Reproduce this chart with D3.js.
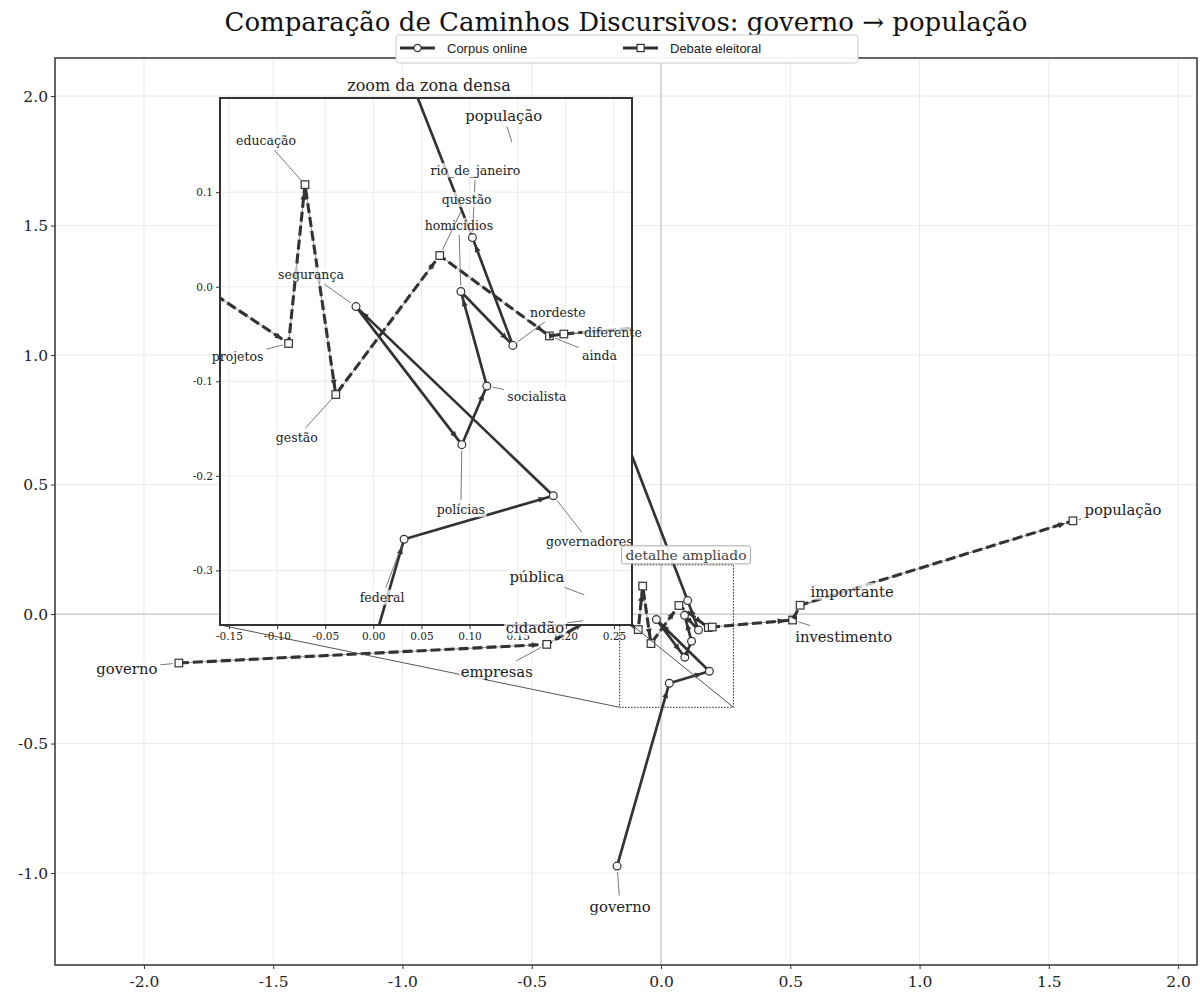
<!DOCTYPE html>
<html>
<head>
<meta charset="utf-8">
<script src="https://cdn.jsdelivr.net/npm/d3@7"></script>
<style>
  body { margin: 0; background: #fff; }
  svg { display: block; }
</style>
</head>
<body>
<div id="chart"></div>
<script>
// ---- data ----
const corpusWords = ['governo', 'federal', 'governadores', 'segurança', 'polícias', 'socialista',
                     'homicídios', 'nordeste', 'rio_de_janeiro', 'população'];
const corpusX = [-0.170, 0.032, 0.187, -0.018, 0.092, 0.118, 0.091, 0.145, 0.103, -0.570];
const corpusY = [-0.973, -0.267, -0.221, -0.021, -0.167, -0.105, -0.005, -0.062, 0.052, 1.800];

const debateWords = ['governo', 'empresas', 'cidadão', 'pública', 'projetos', 'educação', 'gestão',
                     'questão', 'ainda', 'diferente', 'investimento', 'importante', 'população'];
const debateX = [-1.865, -0.442, -0.279, -0.275, -0.088, -0.071, -0.039, 0.069, 0.183, 0.198, 0.509, 0.538, 1.593];
const debateY = [-0.189, -0.117, -0.023, 0.066, -0.060, 0.108, -0.114, 0.033, -0.052, -0.050, -0.023, 0.034, 0.360];

const seriesNames = ['Corpus online', 'Debate eleitoral'];
const mainXTicks = [-2.0, -1.5, -1.0, -0.5, 0.0, 0.5, 1.0, 1.5, 2.0];
const mainYTicks = [-1.0, -0.5, 0.0, 0.5, 1.0, 1.5, 2.0];
const insetXTicks = [-0.15, -0.10, -0.05, 0.00, 0.05, 0.10, 0.15, 0.20, 0.25];
const insetYTicks = [-0.3, -0.2, -0.1, 0.0, 0.1];
const insetLimits = { x0: -0.1593, x1: 0.2688, y0: -0.3577, y1: 0.1996 };
const zoomBox = { x0: -0.16, x1: 0.28, y0: -0.36, y1: 0.19 };

// label placement (pixel offsets from the point), per axes
const mainLabelOffsets = {
  'c:governo': [3, 40], 'c:população': [-10, -32],
  'd:governo': [-52, 5], 'd:empresas': [-50, 27], 'd:cidadão': [-54, 7], 'd:pública': [-53, -20],
  'd:investimento': [51, 16], 'd:importante': [52, -14], 'd:população': [50, -11]
};
const insetLabelOffsets = {
  'c:federal': [-22, 58], 'c:governadores': [36, 46], 'c:segurança': [-45, -32],
  'c:polícias': [-1, 65], 'c:socialista': [50, 10], 'c:homicídios': [-2, -66],
  'c:nordeste': [45, -33], 'c:rio_de_janeiro': [3, -67],
  'd:projetos': [-51, 13], 'd:educação': [-39, -44], 'd:gestão': [-39, 43],
  'd:questão': [27, -56], 'd:ainda': [50, 20], 'd:diferente': [49, -2]
};

const W = 1200, H = 994;
const serif = '"DejaVu Serif", serif';
const sans = '"Liberation Sans", Arial, sans-serif';
const ink = '#333';

const corpus = corpusWords.map((w, i) => ({ key: 'c:' + w, word: w, x: corpusX[i], y: corpusY[i] }));
const debate = debateWords.map((w, i) => ({ key: 'd:' + w, word: w, x: debateX[i], y: debateY[i] }));

const svg = d3.select('#chart').append('svg')
  .attr('width', W).attr('height', H)
  .style('background', '#fff');

const defs = svg.append('defs');

// main axes
const x = d3.scaleLinear().domain([-2.344, 2.073]).range([55, 1197]);
const y = d3.scaleLinear().domain([-1.355, 2.147]).range([965, 58]);
// inset axes
const ix = d3.scaleLinear().domain([insetLimits.x0, insetLimits.x1]).range([220, 632]);
const iy = d3.scaleLinear().domain([insetLimits.y0, insetLimits.y1]).range([625, 98]);

function clipFor(id, sx, sy) {
  defs.append('clipPath').attr('id', id).append('rect')
    .attr('x', sx.range()[0]).attr('y', sy.range()[1])
    .attr('width', sx.range()[1] - sx.range()[0])
    .attr('height', sy.range()[0] - sy.range()[1]);
  return 'url(#' + id + ')';
}

function drawFrame(g, sx, sy, xt, yt, opts) {
  const [l, r] = sx.range(), [b, t] = sy.range();
  g.append('rect').attr('x', l).attr('y', t).attr('width', r - l).attr('height', b - t)
    .attr('fill', '#fff');
  const grid = g.append('g');
  grid.selectAll('.gx').data(xt).enter().append('line')
    .attr('x1', d => sx(d)).attr('x2', d => sx(d)).attr('y1', t).attr('y2', b)
    .attr('stroke', '#e8e8e8').attr('stroke-width', 0.9);
  grid.selectAll('.gy').data(yt).enter().append('line')
    .attr('y1', d => sy(d)).attr('y2', d => sy(d)).attr('x1', l).attr('x2', r)
    .attr('stroke', '#e8e8e8').attr('stroke-width', 0.9);
  if (opts.zeroLines) {
    grid.append('line').attr('x1', sx(0)).attr('x2', sx(0)).attr('y1', t).attr('y2', b)
      .attr('stroke', '#c8c8c8').attr('stroke-width', 1.3);
    grid.append('line').attr('y1', sy(0)).attr('y2', sy(0)).attr('x1', l).attr('x2', r)
      .attr('stroke', '#c8c8c8').attr('stroke-width', 1.3);
  }
}

function drawAxes(g, sx, sy, xt, yt, fmtX, fmtY, opts) {
  const [l, r] = sx.range(), [b, t] = sy.range();
  const ax = g.append('g').attr('transform', `translate(0,${b})`)
    .call(d3.axisBottom(sx).tickValues(xt).tickFormat(fmtX).tickSize(4).tickSizeOuter(0));
  const ay = g.append('g').attr('transform', `translate(${l},0)`)
    .call(d3.axisLeft(sy).tickValues(yt).tickFormat(fmtY).tickSize(4).tickSizeOuter(0));
  [ax, ay].forEach(a => {
    a.select('.domain').remove();
    a.selectAll('line').attr('stroke', '#333');
    a.selectAll('text').attr('font-family', serif).attr('font-size', opts.tickFont).attr('fill', '#222');
  });
  ax.selectAll('text').attr('dy', opts.xDy);
  g.append('rect').attr('x', l).attr('y', t).attr('width', r - l).attr('height', b - t)
    .attr('fill', 'none').attr('stroke', opts.spine).attr('stroke-width', opts.spineW);
}

function drawSeries(g, sx, sy, pts, style) {
  const line = d3.line().x(d => sx(d.x)).y(d => sy(d.y));
  g.append('path').datum(pts).attr('d', line)
    .attr('fill', 'none').attr('stroke', ink)
    .attr('stroke-width', style.width)
    .attr('stroke-dasharray', style.dash)
    .attr('stroke-linejoin', 'round');
}

// arrow geometry for each step of a path
function arrowSegs(sx, sy, pts) {
  return d3.pairs(pts).map(([a, b]) => {
    const x0 = sx(a.x), y0 = sy(a.y), x1 = sx(b.x), y1 = sy(b.y);
    const len = Math.hypot(x1 - x0, y1 - y0);
    const ux = (x1 - x0) / len, uy = (y1 - y0) / len;
    return { x0, y0, ux, uy, len, tipX: x1 - ux * 8, tipY: y1 - uy * 8 };
  }).filter(s => s.len >= 14);
}

function drawShafts(g, sx, sy, pts) {
  arrowSegs(sx, sy, pts).forEach(s => {
    g.append('line')
      .attr('x1', s.x0 + s.ux * 5).attr('y1', s.y0 + s.uy * 5)
      .attr('x2', s.tipX).attr('y2', s.tipY)
      .attr('stroke', '#8a8a8a').attr('stroke-width', 0.9);
  });
}

function drawHeads(g, sx, sy, pts) {
  arrowSegs(sx, sy, pts).forEach(s => {
    const bx = s.tipX - s.ux * 7, by = s.tipY - s.uy * 7;
    g.append('path')
      .attr('d', `M${s.tipX},${s.tipY}L${bx - s.uy * 3},${by + s.ux * 3}L${bx + s.uy * 3},${by - s.ux * 3}Z`)
      .attr('fill', ink);
  });
}

function drawMarkers(g, sx, sy, pts, shape) {
  if (shape === 'circle') {
    g.selectAll(null).data(pts).enter().append('circle')
      .attr('cx', d => sx(d.x)).attr('cy', d => sy(d.y)).attr('r', 3.9)
      .attr('fill', '#f7f7f7').attr('stroke', ink).attr('stroke-width', 1.2);
  } else {
    g.selectAll(null).data(pts).enter().append('rect')
      .attr('x', d => sx(d.x) - 3.8).attr('y', d => sy(d.y) - 3.8)
      .attr('width', 7.6).attr('height', 7.6)
      .attr('fill', '#f7f7f7').attr('stroke', ink).attr('stroke-width', 1.2);
  }
}

function drawPanel(g, sx, sy) {
  drawShafts(g, sx, sy, corpus);
  drawShafts(g, sx, sy, debate);
  drawSeries(g, sx, sy, corpus, { width: 2.7, dash: null });
  drawMarkers(g, sx, sy, corpus, 'circle');
  drawSeries(g, sx, sy, debate, { width: 3.1, dash: '10,4' });
  drawMarkers(g, sx, sy, debate, 'square');
  drawHeads(g, sx, sy, corpus);
  drawHeads(g, sx, sy, debate);
}

function drawLabels(g, sx, sy, pts, offsets, fontSize) {
  pts.filter(d => offsets[d.key]).forEach(d => {
    const px = sx(d.x), py = sy(d.y);
    const [ox, oy] = offsets[d.key];
    const cx = px + ox, cy = py + oy;
    const lg = g.append('g');
    const leader = lg.append('line');
    const box = lg.append('rect');
    const txt = lg.append('text').attr('x', cx).attr('y', cy)
      .attr('text-anchor', 'middle').attr('dominant-baseline', 'central')
      .attr('font-family', serif).attr('font-size', fontSize).attr('fill', '#222')
      .text(d.word);
    const bb = txt.node().getBBox();
    box.attr('x', bb.x - 1.5).attr('y', bb.y).attr('width', bb.width + 3).attr('height', bb.height)
      .attr('fill', '#fff').attr('fill-opacity', 0.72);
    // leader from the label edge to just short of the point
    const dx = px - cx, dy = py - cy, dl = Math.hypot(dx, dy);
    const hw = bb.width / 2 + 3, hh = bb.height / 2 + 2;
    const t = Math.min(dx ? hw / Math.abs(dx) : Infinity, dy ? hh / Math.abs(dy) : Infinity);
    const sxp = cx + dx * t, syp = cy + dy * t;
    const ex = px - dx / dl * 6, ey = py - dy / dl * 6;
    if (t < 1 && Math.hypot(ex - cx, ey - cy) > Math.hypot(sxp - cx, syp - cy)) {
      leader.attr('x1', sxp).attr('y1', syp).attr('x2', ex).attr('y2', ey)
        .attr('stroke', '#555').attr('stroke-width', 0.8);
    }
  });
}

const fmt1 = d => d.toFixed(1);
const fmt2 = d => d.toFixed(2);

// ---------- main axes ----------
const main = svg.append('g');
drawFrame(main, x, y, mainXTicks, mainYTicks, { zeroLines: true });
drawPanel(main.append('g').attr('clip-path', clipFor('clipMain', x, y)), x, y);

// zoomed region marker + connectors
const rx0 = x(zoomBox.x0), rx1 = x(zoomBox.x1), ry0 = y(zoomBox.y1), ry1 = y(zoomBox.y0);
main.append('rect').attr('x', rx0).attr('y', ry0).attr('width', rx1 - rx0).attr('height', ry1 - ry0)
  .attr('fill', 'none').attr('stroke', '#222').attr('stroke-width', 1).attr('stroke-dasharray', '1.5,1.5');
main.append('line').attr('x1', ix.range()[0]).attr('y1', iy.range()[0]).attr('x2', rx0).attr('y2', ry1)
  .attr('stroke', '#555').attr('stroke-width', 1);
main.append('line').attr('x1', ix.range()[1]).attr('y1', iy.range()[0]).attr('x2', rx1).attr('y2', ry1)
  .attr('stroke', '#555').attr('stroke-width', 1);
drawAxes(main, x, y, mainXTicks, mainYTicks, fmt1, fmt1,
  { tickFont: 15.5, xDy: '0.95em', spine: '#333', spineW: 1.5 });

// ---------- inset ----------
const inset = svg.append('g');
drawFrame(inset, ix, iy, insetXTicks, insetYTicks, { zeroLines: false });
drawPanel(inset.append('g').attr('clip-path', clipFor('clipInset', ix, iy)), ix, iy);
drawLabels(inset, ix, iy, corpus, insetLabelOffsets, 12.5);
drawLabels(inset, ix, iy, debate, insetLabelOffsets, 12.5);
drawAxes(inset, ix, iy, insetXTicks, insetYTicks, fmt2, fmt1,
  { tickFont: 10.5, xDy: '0.8em', spine: '#333', spineW: 2 });
inset.append('text').attr('x', 429).attr('y', 91)
  .attr('text-anchor', 'middle').attr('font-family', serif).attr('font-size', 16).attr('fill', '#222')
  .text('zoom da zona densa');

// main labels drawn above the inset
const mainLabels = svg.append('g');
drawLabels(mainLabels, x, y, corpus, mainLabelOffsets, 14.8);
drawLabels(mainLabels, x, y, debate, mainLabelOffsets, 14.8);

// "detalhe ampliado" tag
const tag = svg.append('g');
const tagText = tag.append('text').attr('x', 686).attr('y', ry0 - 5)
  .attr('text-anchor', 'middle').attr('font-family', serif).attr('font-size', 13.8).attr('fill', '#444')
  .text('detalhe ampliado');
const tb = tagText.node().getBBox();
tag.insert('rect', 'text').attr('x', tb.x - 4).attr('y', tb.y - 1).attr('width', tb.width + 8).attr('height', tb.height + 2)
  .attr('fill', '#fff').attr('fill-opacity', 0.9).attr('stroke', '#aaa').attr('stroke-width', 1).attr('rx', 2);

// ---------- title ----------
svg.append('text').attr('x', 626).attr('y', 31)
  .attr('text-anchor', 'middle').attr('font-family', serif).attr('font-size', 26).attr('fill', '#111')
  .text('Comparação de Caminhos Discursivos: governo → população');

// ---------- legend ----------
const legend = svg.append('g');
legend.append('rect').attr('x', 396).attr('y', 35).attr('width', 462).attr('height', 28).attr('rx', 3)
  .attr('fill', '#fff').attr('fill-opacity', 0.95).attr('stroke', '#ccc').attr('stroke-width', 1);
const legendX = [400, 623];
seriesNames.forEach((name, i) => {
  const lx = legendX[i], ly = 48;
  legend.append('line').attr('x1', lx).attr('x2', lx + 35).attr('y1', ly).attr('y2', ly)
    .attr('stroke', ink).attr('stroke-width', 2.8);
  if (i === 0) {
    legend.append('circle').attr('cx', lx + 17.5).attr('cy', ly).attr('r', 3.6)
      .attr('fill', '#f7f7f7').attr('stroke', ink).attr('stroke-width', 1.2);
  } else {
    legend.append('rect').attr('x', lx + 14).attr('y', ly - 3.6).attr('width', 7.2).attr('height', 7.2)
      .attr('fill', '#f7f7f7').attr('stroke', ink).attr('stroke-width', 1.2);
  }
  legend.append('text').attr('x', lx + 47).attr('y', ly + 4.5)
    .attr('font-family', sans).attr('font-size', 13).attr('fill', '#222').text(name);
});
</script>
</body>
</html>
